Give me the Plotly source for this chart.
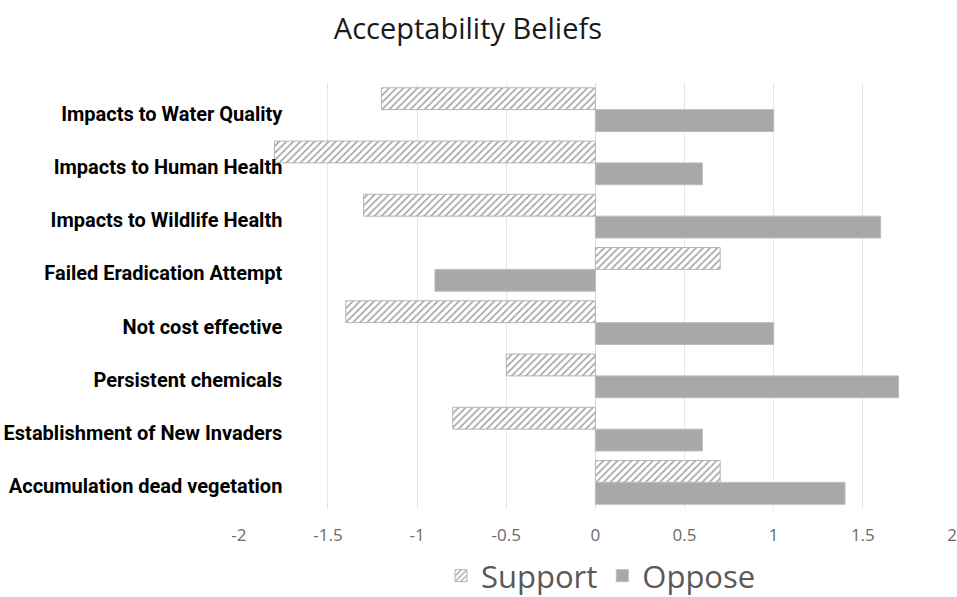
import plotly.graph_objects as go

# Belief categories, listed top to bottom
categories = [
    "Impacts to Water Quality",
    "Impacts to Human Health",
    "Impacts to Wildlife Health",
    "Failed Eradication Attempt",
    "Not cost effective",
    "Persistent chemicals",
    "Establishment of New Invaders",
    "Accumulation dead vegetation",
]
support = [-1.2, -1.8, -1.3, 0.7, -1.4, -0.5, -0.8, 0.7]
oppose = [1.0, 0.6, 1.6, -0.9, 1.0, 1.7, 0.6, 1.4]

x_ticks = [-2, -1.5, -1, -0.5, 0, 0.5, 1, 1.5, 2]
x_tick_labels = ["-2", "-1.5", "-1", "-0.5", "0", "0.5", "1", "1.5", "2"]

FONT = "Open Sans"
LABEL_FONT = "Roboto"

fig = go.Figure()
fig.add_trace(go.Bar(
    name="Support",
    y=categories,
    x=support,
    orientation="h",
    marker=dict(
        color="white",
        line=dict(color="#b5b5b5", width=1),
        pattern=dict(shape="/", fgcolor="#a0a0a0", bgcolor="white",
                     size=5, solidity=0.3, fillmode="replace"),
    ),
))
fig.add_trace(go.Bar(
    name="Oppose",
    y=categories,
    x=oppose,
    orientation="h",
    marker=dict(color="#a8a8a8", line=dict(color="#bcbcbc", width=1)),
))

W, H = 957, 597
ml, mr, mt, mb = 0, 4, 83, 88
pw = W - ml - mr
fig.update_layout(
    width=W, height=H,
    margin=dict(l=ml, r=mr, t=mt, b=mb),
    paper_bgcolor="white",
    plot_bgcolor="white",
    barmode="group",
    bargap=0.18,
    bargroupgap=0,
    font=dict(family=FONT, color="#595959"),
    title=dict(text="Acceptability Beliefs", x=466 / pw, xanchor="center",
               y=1 - 29 / H, yanchor="middle",
               font=dict(family=FONT, size=29, color="#1a1a1a")),
    showlegend=True,
    legend=dict(orientation="h", xref="container", yref="container",
                x=601 / W, xanchor="center",
                y=(H - 576) / H, yanchor="middle",
                font=dict(family=FONT, size=31, color="#595959"),
                itemwidth=30, traceorder="normal"),
    xaxis=dict(
        domain=[233 / pw, 1],
        range=[-2, 2],
        tickvals=x_ticks,
        ticktext=x_tick_labels,
        showgrid=True,
        gridcolor="#e6e6e6",
        gridwidth=1,
        zeroline=True,
        zerolinecolor="#dedede",
        zerolinewidth=1,
        showline=False,
        ticks="",
        ticklabelstandoff=14,
        ticklabeloverflow="allow",
        tickfont=dict(family=FONT, size=17, color="#6b6b6b"),
    ),
    yaxis=dict(
        autorange="reversed",
        anchor="free",
        position=277 / pw,
        automargin=False,
        showgrid=False,
        zeroline=False,
        showline=False,
        ticks="",
        ticklabelshift=-4,
        tickfont=dict(family=LABEL_FONT, size=20, color="#000000", weight="bold"),
    ),
)

fig.write_html("out.html")
